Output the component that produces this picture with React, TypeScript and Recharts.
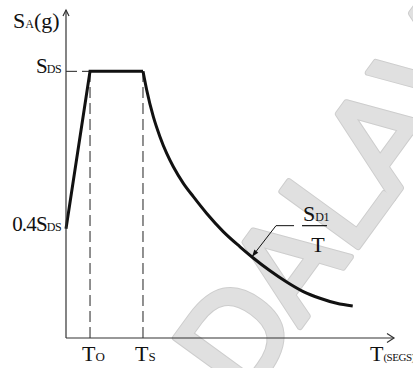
import React from 'react';
import { LineChart, Line, XAxis, YAxis, ReferenceLine, ReferenceDot } from 'recharts';

// design response spectrum: ramp + plateau, then the S_D1/T decay
const rampT = [0, 0.156, 0.5];
const rampSa = [0.41, 1, 1];
const decayT = [0.5, 0.524, 0.567, 0.61, 0.654, 0.697, 0.762, 0.827, 0.914, 1.021, 1.13, 1.216, 1.325, 1.433, 1.541, 1.649, 1.758, 1.862];
const decaySa = [1, 0.93, 0.83, 0.755, 0.692, 0.642, 0.58, 0.53, 0.467, 0.399, 0.342, 0.3, 0.252, 0.21, 0.174, 0.149, 0.13, 0.12];

const T0 = 0.156;
const TS = 0.5;
const SDS = 1;

const xTickValues = [T0, TS];
const xTickMain = ['T', 'T'];
const xTickSub = ['O', 'S'];
const yTickValues = [0.41, SDS];
const yTickMain = ['0.4S', 'S'];
const yTickSub = ['DS', 'DS'];

const arrowPoint = { T: 1.208, Sa: 0.305 };
const X_MAX = 2.13;
const Y_MAX = 1.23;

const FONT = '"Liberation Serif", "DejaVu Serif", serif';
const INK = '#111';
const WATERMARK = 'DA LA V';

const table = Array.from(new Set([...rampT, ...decayT]))
  .sort((a, b) => a - b)
  .map((t) => {
    const ri = rampT.indexOf(t);
    const di = decayT.indexOf(t);
    return {
      T: t,
      ramp: ri >= 0 ? rampSa[ri] : undefined,
      decay: di >= 0 ? decaySa[di] : undefined,
    };
  });

const XTick = (props: any) => {
  const { x, y, index } = props;
  return (
    <text x={x - 8} y={y + 23} fontFamily={FONT} fill={INK} fontSize={22}>
      {xTickMain[index]}
      <tspan fontSize={13}>{xTickSub[index]}</tspan>
    </text>
  );
};

const YTick = (props: any) => {
  const { x, y, index } = props;
  return (
    <text x={x - 5} y={y + 2} textAnchor="end" fontFamily={FONT} fill={INK} fontSize={21} letterSpacing={-0.8}>
      {yTickMain[index]}
      <tspan fontSize={12} letterSpacing={-0.6}>{yTickSub[index]}</tspan>
    </text>
  );
};

// open chevron arrowheads on the axes
const XArrow = (props: any) => {
  const { cx, cy } = props;
  return <polyline points={`${cx - 7},${cy - 4.5} ${cx},${cy} ${cx - 7},${cy + 4.5}`} fill="none" stroke="#333" strokeWidth={1.2} />;
};
const YArrow = (props: any) => {
  const { cx, cy } = props;
  return <polyline points={`${cx - 3},${cy + 6} ${cx},${cy} ${cx + 3},${cy + 6}`} fill="none" stroke="#333" strokeWidth={1.2} />;
};

const Leader = (props: any) => {
  const { cx, cy } = props;
  const ex = cx + 24;
  const ey = cy - 31;
  const len = Math.hypot(ex - cx, ey - cy);
  const ux = (ex - cx) / len;
  const uy = (ey - cy) / len;
  const hx = cx + ux * 7;
  const hy = cy + uy * 7;
  const head = `${cx},${cy} ${hx - uy * 2.5},${hy + ux * 2.5} ${hx + uy * 2.5},${hy - ux * 2.5}`;
  return (
    <g>
      <line x1={cx} y1={cy} x2={ex} y2={ey} stroke={INK} strokeWidth={1} />
      <line x1={ex} y1={ey} x2={cx + 42} y2={ey} stroke={INK} strokeWidth={1} />
      <polygon points={head} fill={INK} />
      <line x1={cx + 50} y1={ey} x2={cx + 75} y2={ey} stroke={INK} strokeWidth={1.2} />
      <text x={cx + 51} y={ey - 5} fontFamily={FONT} fill={INK} fontSize={22}>
        S<tspan fontSize={12} letterSpacing={-0.5}>D1</tspan>
      </text>
      <text x={cx + 66} y={ey + 26} textAnchor="middle" fontFamily={FONT} fill={INK} fontSize={22}>
        T
      </text>
    </g>
  );
};

const wmProps = {
  transform: 'translate(244, 404) rotate(-54)',
  fontFamily: '"DejaVu Sans", sans-serif',
  fontSize: 130,
  letterSpacing: -4,
  wordSpacing: -35,
  strokeLinejoin: 'round' as const,
};

const App: React.FC = () => {
  return (
    <div style={{ position: 'absolute', left: 0, top: 0, width: 413, height: 368, background: '#fff', overflow: 'hidden' }}>
      {/* faint watermark behind the chart */}
      <svg width={413} height={368} style={{ position: 'absolute', left: 0, top: 0 }}>
        <text {...wmProps} fill="#cdcdcd" stroke="#cdcdcd" strokeWidth={6}>{WATERMARK}</text>
        <text {...wmProps} fill="#e0e0e0" stroke="#e0e0e0" strokeWidth={4}>{WATERMARK}</text>
      </svg>
      <div style={{ position: 'absolute', left: 0, top: 0 }}>
        <LineChart width={413} height={368} data={table} margin={{ top: 10, right: 19, left: 0, bottom: 0 }}>
          <XAxis
            dataKey="T"
            type="number"
            domain={[0, X_MAX]}
            ticks={xTickValues}
            tick={<XTick />}
            tickLine={false}
            tickSize={0}
            tickMargin={0}
            height={30}
            axisLine={{ stroke: '#333', strokeWidth: 1.2 }}
            label={{
              content: (p: any) => {
                const vb = p.viewBox;
                return (
                  <text x={vb.x + vb.width - 24} y={vb.y + 23} fontFamily={FONT} fill={INK} fontSize={22}>
                    T<tspan fontSize={11} letterSpacing={-0.5}>(SEGS)</tspan>
                  </text>
                );
              },
            }}
          />
          <YAxis
            type="number"
            domain={[0, Y_MAX]}
            ticks={yTickValues}
            tick={<YTick />}
            tickLine={false}
            tickSize={0}
            tickMargin={0}
            width={66}
            axisLine={{ stroke: '#333', strokeWidth: 1.2 }}
            label={{
              content: (p: any) => {
                const vb = p.viewBox;
                return (
                  <text x={13} y={vb.y + 18} fontFamily={FONT} fill={INK} fontSize={22}>
                    S<tspan fontSize={12}>A</tspan>(g)
                  </text>
                );
              },
            }}
          />
          <ReferenceLine segment={[{ x: 0, y: SDS }, { x: T0, y: SDS }]} stroke="#222" strokeDasharray="11 5" />
          <ReferenceLine segment={[{ x: T0, y: 0 }, { x: T0, y: SDS }]} stroke="#222" strokeDasharray="11 5" />
          <ReferenceLine segment={[{ x: TS, y: 0 }, { x: TS, y: SDS }]} stroke="#222" strokeDasharray="11 5" />
          <Line dataKey="ramp" type="linear" stroke={INK} strokeWidth={3} dot={false} connectNulls isAnimationActive={false} />
          <Line dataKey="decay" type="monotone" stroke={INK} strokeWidth={3} dot={false} connectNulls isAnimationActive={false} />
          <ReferenceDot x={arrowPoint.T} y={arrowPoint.Sa} shape={<Leader />} />
          <ReferenceDot x={X_MAX} y={0} shape={<XArrow />} />
          <ReferenceDot x={0} y={Y_MAX} shape={<YArrow />} />
        </LineChart>
      </div>
    </div>
  );
};

export default App;
